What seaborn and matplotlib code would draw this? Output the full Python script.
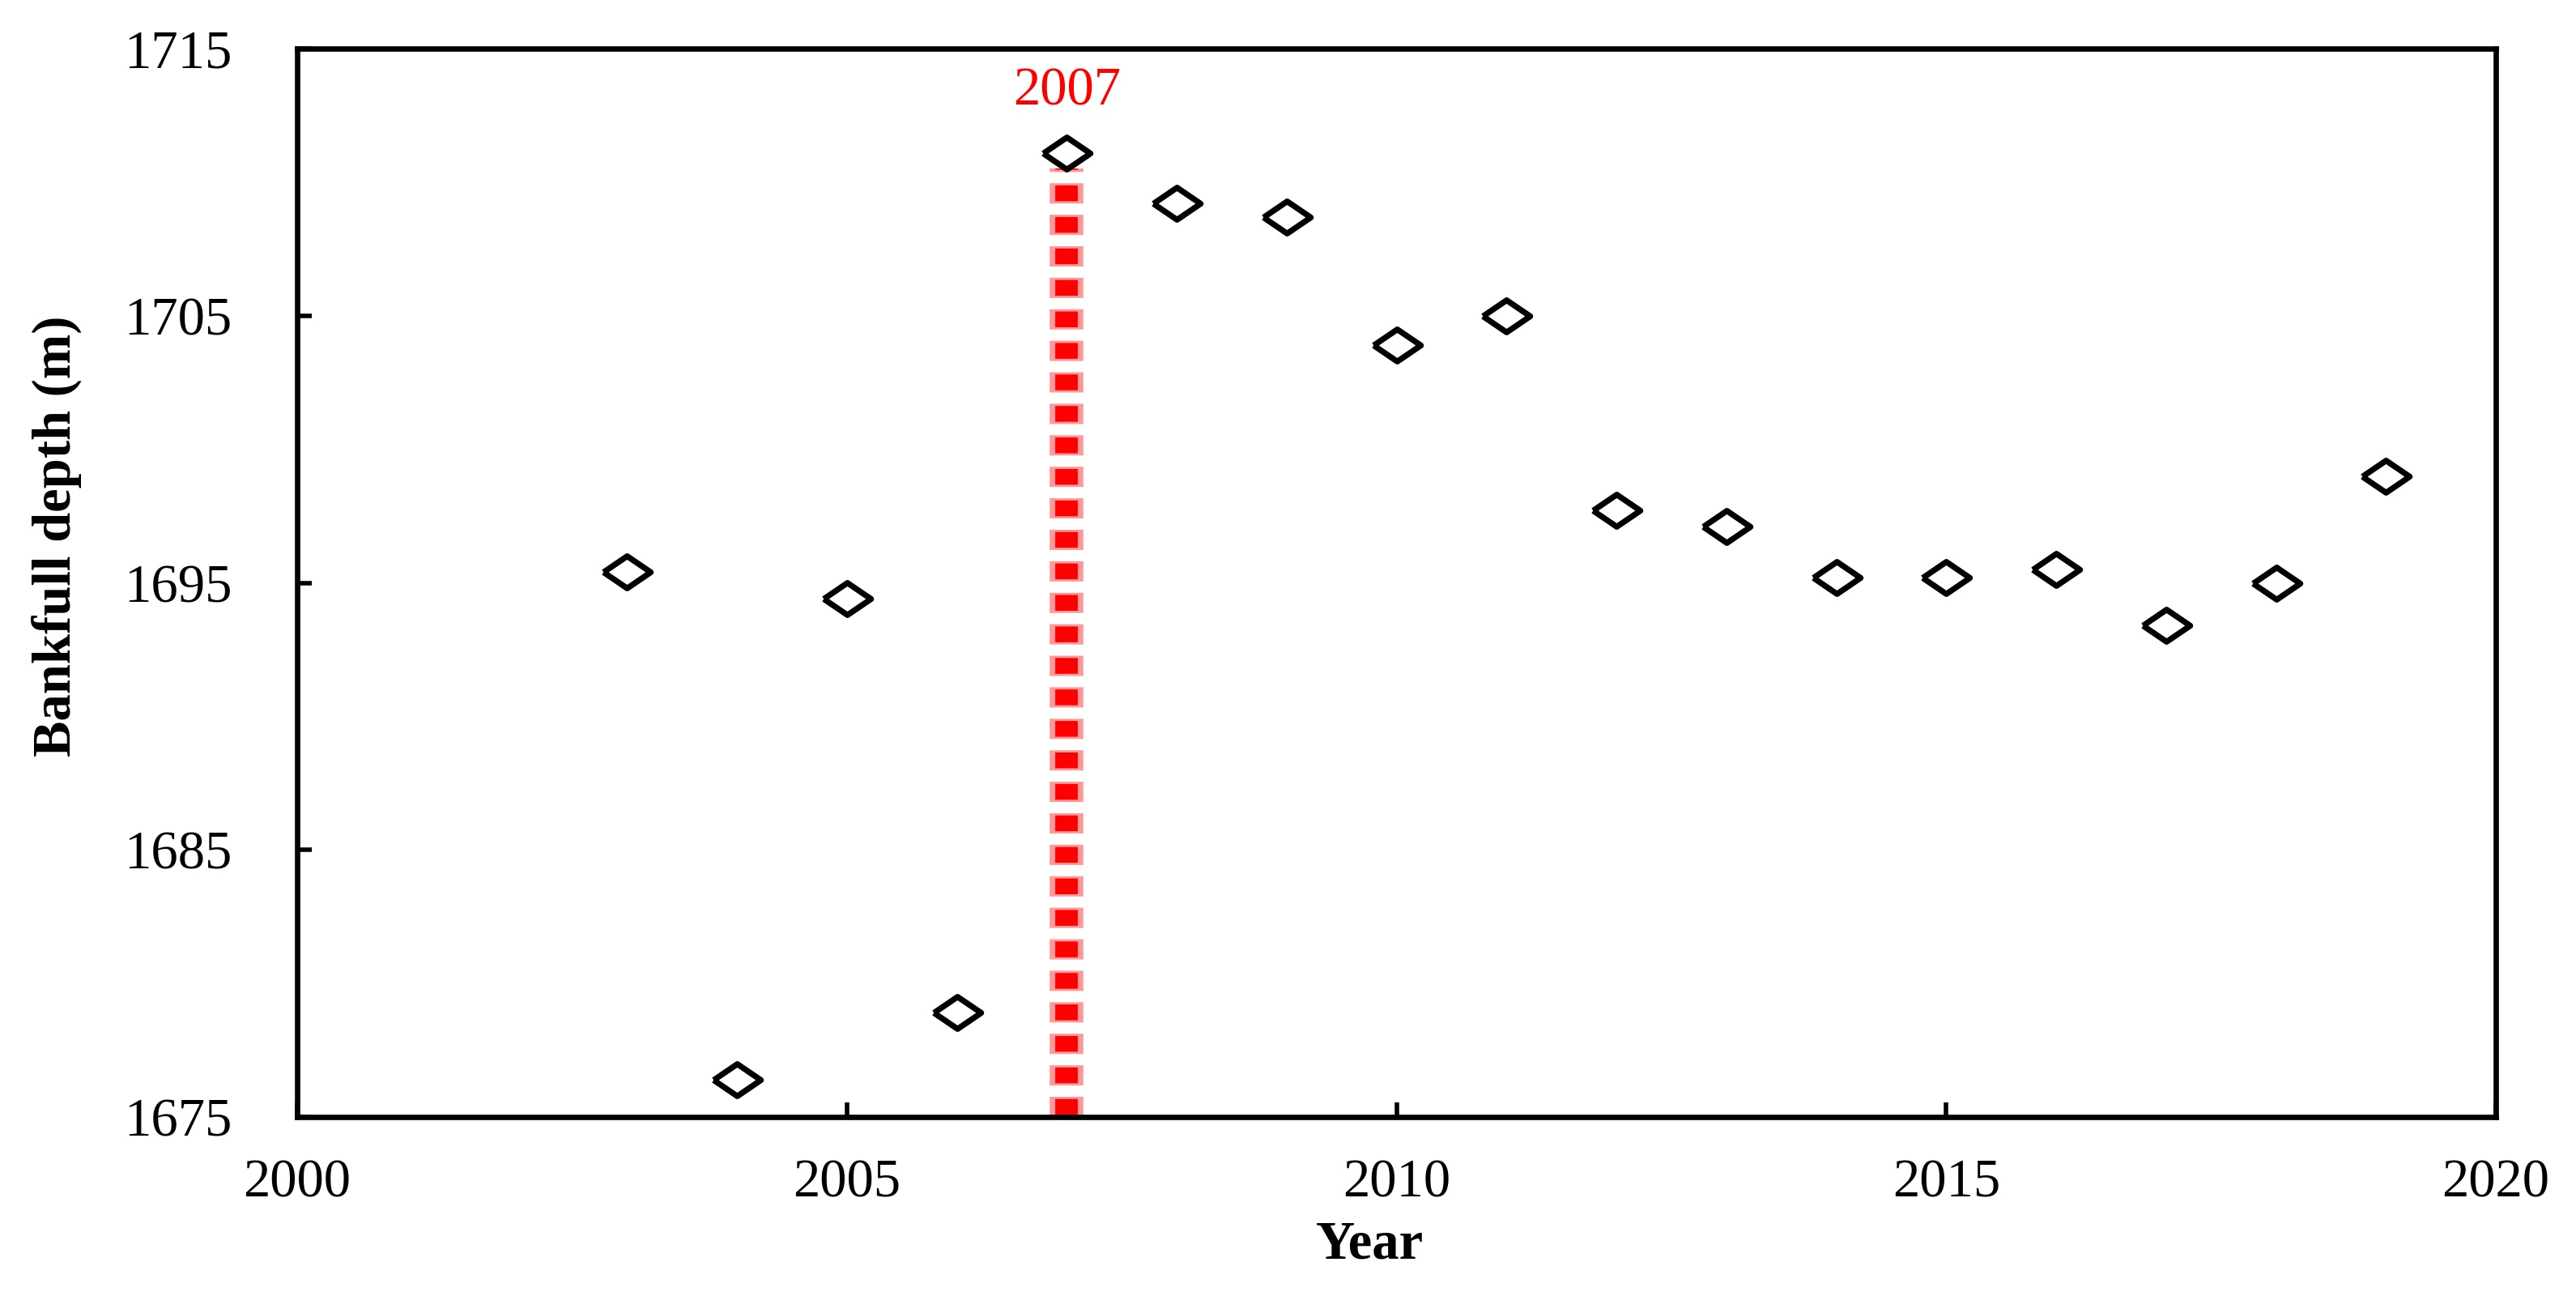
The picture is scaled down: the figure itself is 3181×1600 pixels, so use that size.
import numpy as np
import pandas as pd
import seaborn as sns
import matplotlib.pyplot as plt
from matplotlib.markers import MarkerStyle

# Bankfull depth by year
years = [2003, 2004, 2005, 2006, 2007, 2008, 2009, 2010, 2011,
         2012, 2013, 2014, 2015, 2016, 2017, 2018, 2019]
depth = [1695.4, 1676.4, 1694.4, 1678.9, 1711.1, 1709.2, 1708.7, 1703.9, 1705.0,
         1697.7, 1697.1, 1695.2, 1695.2, 1695.5, 1693.4, 1695.0, 1699.0]

event_year = 2007
event_label = "2007"
line_span = [1675, 1710.5]

x_ticks = [2000, 2005, 2010, 2015, 2020]
y_ticks = [1675, 1685, 1695, 1705, 1715]

df = pd.DataFrame({"Year": years, "Depth": depth})

sns.set_style("ticks")
plt.rcParams["font.family"] = ["Liberation Serif", "DejaVu Serif"]
plt.rcParams["lines.scale_dashes"] = False
plt.rcParams["text.color"] = "black"

fig, ax = plt.subplots(figsize=(15.905, 8.0), dpi=200)
fig.subplots_adjust(left=367 / 3181, right=3082 / 3181,
                    bottom=1 - 1379 / 1600, top=1 - 60 / 1600)

# red dotted marker line for 2007 (soft halo + solid core)
ax.plot([event_year, event_year], line_span, color="#ff9999", lw=15,
        linestyle=(0, (9, 5)), dash_capstyle="butt", zorder=2)
ax.plot([event_year, event_year], line_span, color="red", lw=10,
        linestyle=(13, (7, 7)), dash_capstyle="butt", zorder=2)

flat_diamond = MarkerStyle([(-1, 0), (0, 0.68), (1, 0), (0, -0.68), (-1, 0)])
sns.scatterplot(data=df, x="Year", y="Depth", ax=ax, marker=flat_diamond,
                s=21 ** 2, color="white", edgecolor="black", linewidth=2.6,
                zorder=3)

ax.text(event_year, 1713.4, event_label, color="red", fontsize=24,
        ha="center", va="center")

ax.set_xlim(2000, 2020)
ax.set_ylim(1675, 1715)
ax.set_xticks(x_ticks)
ax.set_yticks(y_ticks)
ax.tick_params(direction="in", length=6.5, width=2, labelsize=24, colors="black")
ax.tick_params(axis="y", pad=29)
ax.tick_params(axis="x", pad=18.5)
for s in ax.spines.values():
    s.set_linewidth(2.4)
    s.set_color("black")

ax.set_xlabel("Year", fontsize=24, fontweight="bold", color="black")
ax.set_ylabel("Bankfull depth (m)", fontsize=24, fontweight="bold", color="black")
ax.xaxis.set_label_coords(0.488, -0.097)
ax.yaxis.set_label_coords(-0.098, 0.544)

fig.savefig("out.png", dpi=200)
